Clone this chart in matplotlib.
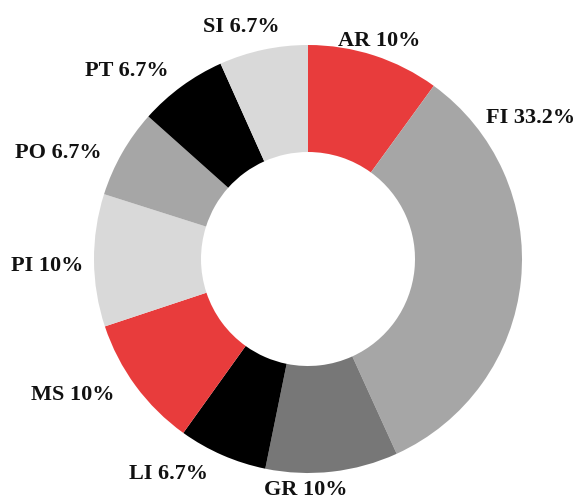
import numpy as np
import matplotlib
matplotlib.use("Agg")
import matplotlib.pyplot as plt

categories = ["AR", "FI", "GR", "LI", "MS", "PI", "PO", "PT", "SI"]
values = [10, 33.2, 10, 6.7, 10, 10, 6.7, 6.7, 6.7]
labels = ["AR 10%", "FI 33.2%", "GR 10%", "LI 6.7%", "MS 10%", "PI 10%", "PO 6.7%", "PT 6.7%", "SI 6.7%"]
colors = ["#E83C3C", "#A6A6A6", "#777777", "#000000", "#E83C3C", "#D9D9D9", "#A6A6A6", "#000000", "#D9D9D9"]

# label layout (angle in degrees, radius relative to outer radius)
label_angle = [72, 32.4, -90.5, -123, -150, 181.5, 157, 134, 106]
label_radius = [1.07, 1.23, 1.08, 1.20, 1.27, 1.22, 1.27, 1.22, 1.13]

W, H = 579, 499
fig = plt.figure(figsize=(W / 100, H / 100), dpi=100)
ax = fig.add_axes([0, 0, 1, 1])
ax.axis("off")

cx, cy, R = 308, 259, 214
xmin = -cx / R
ymin = -(H - cy) / R
ax.set_xlim(xmin, xmin + W / R)
ax.set_ylim(ymin, ymin + H / R)

ax.pie(values, colors=colors, startangle=90, counterclock=False, radius=1.0,
       wedgeprops=dict(width=0.5, edgecolor="none", linewidth=0), frame=False)
ax.set_xlim(xmin, xmin + W / R)
ax.set_ylim(ymin, ymin + H / R)
ax.set_aspect("auto")

for lab, a, r in zip(labels, label_angle, label_radius):
    t = np.deg2rad(a)
    ax.text(r * np.cos(t), r * np.sin(t), lab, ha="center", va="center",
            fontsize=16, fontweight="bold", family="Liberation Serif", color="#111111")

fig.savefig("out.png", dpi=100)
